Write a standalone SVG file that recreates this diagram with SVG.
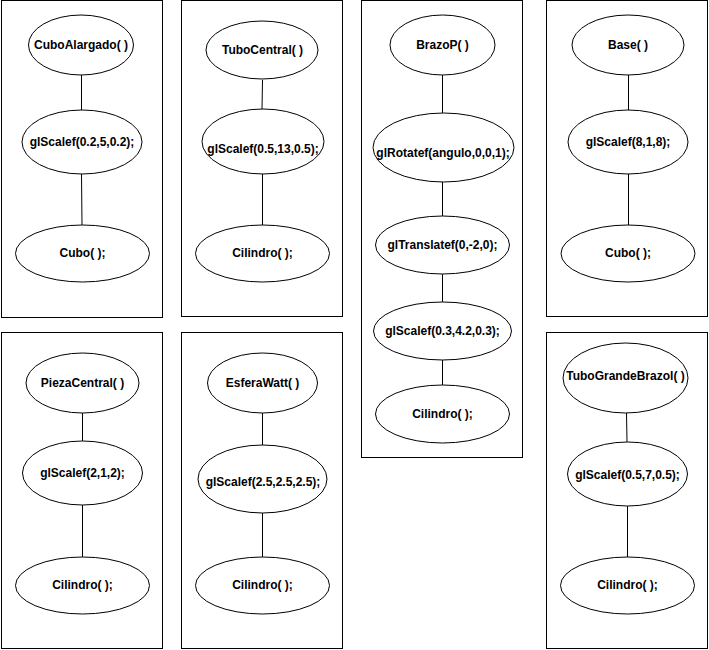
<svg xmlns="http://www.w3.org/2000/svg" width="709" height="650" viewBox="0 0 709 650">
<style>
rect.p{fill:#fff;stroke:#000;stroke-width:1}
ellipse{fill:#fff;stroke:#000;stroke-width:1}
text{font-family:"Liberation Sans",Arial,sans-serif;font-size:12px;font-weight:bold;text-anchor:middle;dominant-baseline:central;fill:#000}
#connectors line{stroke:#000;stroke-width:1}
</style>
<rect width="709" height="650" fill="#fff"/>
<g id="panels">
<rect class="p" x="1.5" y="0.5" width="161" height="317"/>
<rect class="p" x="181.5" y="0.5" width="161" height="316"/>
<rect class="p" x="361.5" y="0.5" width="161" height="457"/>
<rect class="p" x="546.5" y="0.5" width="161" height="316"/>
<rect class="p" x="1.5" y="332.5" width="161" height="316"/>
<rect class="p" x="181.5" y="332.5" width="161" height="316"/>
<rect class="p" x="546.5" y="332.5" width="161" height="316"/>
</g>
<g id="connectors">
<line x1="81.5" y1="75" x2="81.5" y2="110"/>
<line x1="81.5" y1="174" x2="82" y2="225"/>
<line x1="262.5" y1="80" x2="262" y2="109"/>
<line x1="262.5" y1="174" x2="262.5" y2="225"/>
<line x1="442.5" y1="75" x2="442.5" y2="113"/>
<line x1="442.5" y1="182" x2="442.5" y2="216"/>
<line x1="442.5" y1="274" x2="442.5" y2="302"/>
<line x1="442.5" y1="360" x2="442.5" y2="385"/>
<line x1="628.5" y1="75" x2="628.5" y2="110"/>
<line x1="628.5" y1="174" x2="628.5" y2="225"/>
<line x1="82.5" y1="413" x2="82.5" y2="441"/>
<line x1="82.5" y1="505" x2="82.5" y2="557"/>
<line x1="262.5" y1="413" x2="262.5" y2="445"/>
<line x1="262.5" y1="513" x2="262.5" y2="557"/>
<line x1="626.5" y1="413" x2="627" y2="442"/>
<line x1="627.5" y1="506" x2="627.5" y2="557"/>
</g>
<g id="n1"><ellipse cx="81" cy="45" rx="52.5" ry="30"/><text x="81" y="45">CuboAlargado( )</text></g>
<g id="n2"><ellipse cx="82" cy="142" rx="60" ry="32"/><text x="82" y="142">glScalef(0.2,5,0.2);</text></g>
<g id="n3"><ellipse cx="82.5" cy="253.5" rx="67" ry="28.5"/><text x="82.5" y="253">Cubo( );</text></g>
<g id="n4"><ellipse cx="262" cy="50" rx="56" ry="29"/><text x="262.5" y="50">TuboCentral( )</text></g>
<g id="n5"><ellipse cx="263" cy="141.5" rx="61" ry="32.5"/><text x="263" y="148.5">glScalef(0.5,13,0.5);</text></g>
<g id="n6"><ellipse cx="262.5" cy="253.5" rx="67" ry="28.5"/><text x="262.5" y="253">Cilindro( );</text></g>
<g id="n7"><ellipse cx="442.5" cy="45" rx="52.5" ry="30"/><text x="442.5" y="45">BrazoP( )</text></g>
<g id="n8"><ellipse cx="443.5" cy="147.5" rx="70.5" ry="34.5"/><text x="443" y="152.5">glRotatef(angulo,0,0,1);</text></g>
<g id="n9"><ellipse cx="442.5" cy="245" rx="67" ry="29"/><text x="442.5" y="245">glTranslatef(0,-2,0);</text></g>
<g id="n10"><ellipse cx="442.5" cy="331" rx="69" ry="29"/><text x="442.5" y="331">glScalef(0.3,4.2,0.3);</text></g>
<g id="n11"><ellipse cx="442.5" cy="414" rx="67" ry="29"/><text x="442.5" y="414">Cilindro( );</text></g>
<g id="n12"><ellipse cx="628" cy="45" rx="56" ry="30"/><text x="628" y="45">Base( )</text></g>
<g id="n13"><ellipse cx="628" cy="142" rx="60" ry="32"/><text x="628" y="142">glScalef(8,1,8);</text></g>
<g id="n14"><ellipse cx="628" cy="253.5" rx="67" ry="28.5"/><text x="628" y="253">Cubo( );</text></g>
<g id="n15"><ellipse cx="82.5" cy="383" rx="56.5" ry="30"/><text x="82.5" y="383">PiezaCentral( )</text></g>
<g id="n16"><ellipse cx="82.5" cy="473" rx="60" ry="32"/><text x="82.5" y="473">glScalef(2,1,2);</text></g>
<g id="n17"><ellipse cx="82.5" cy="585.5" rx="67" ry="28.5"/><text x="82.5" y="585">Cilindro( );</text></g>
<g id="n18"><ellipse cx="262.5" cy="383" rx="55" ry="30"/><text x="262.5" y="383">EsferaWatt( )</text></g>
<g id="n19"><ellipse cx="262.5" cy="479" rx="64.5" ry="34"/><text x="263" y="481.5">glScalef(2.5,2.5,2.5);</text></g>
<g id="n20"><ellipse cx="262.5" cy="585.5" rx="67" ry="28.5"/><text x="262.5" y="585">Cilindro( );</text></g>
<g id="n21"><ellipse cx="625.5" cy="378" rx="62.5" ry="35"/><text x="625.5" y="376">TuboGrandeBrazol( )</text></g>
<g id="n22"><ellipse cx="627.5" cy="474" rx="60" ry="32"/><text x="627.5" y="475">glScalef(0.5,7,0.5);</text></g>
<g id="n23"><ellipse cx="627.5" cy="585.5" rx="67" ry="28.5"/><text x="627.5" y="585">Cilindro( );</text></g>
</svg>
